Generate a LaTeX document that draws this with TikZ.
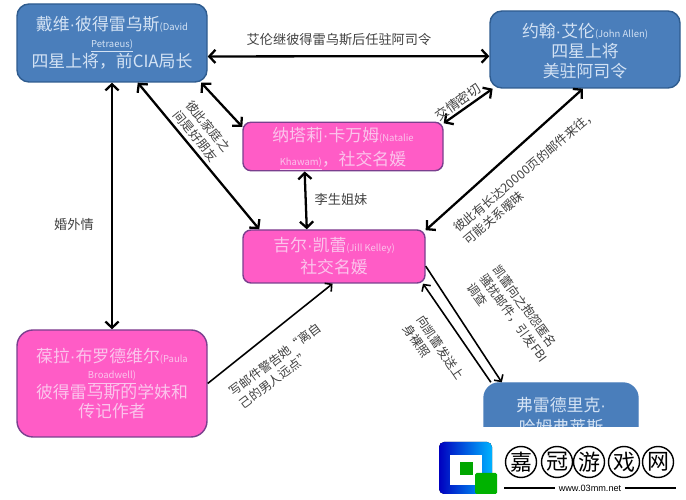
\documentclass[tikz,border=0pt]{standalone}
\usepackage{fontspec}
\setmainfont{Noto Sans CJK SC}
\newfontfamily\latinfont{Liberation Sans}
\usetikzlibrary{arrows.meta}
\usetikzlibrary{positioning}
\definecolor{boxblue}{HTML}{4A7EBB}
\definecolor{edgeblue}{HTML}{2F5C8F}
\definecolor{textblue}{HTML}{D3E2F4}
\definecolor{boxpink}{HTML}{FF5CC6}
\definecolor{edgepink}{HTML}{7A3F8E}
\definecolor{textpink}{HTML}{FBC4EC}
\newcommand{\smalltxt}{\fontsize{5.4}{7}\selectfont}
\newcommand{\middot}{{\latinfont ·}}
\tikzset{
  bluebox/.style={draw=edgeblue,fill=boxblue,text=textblue,line width=0.8pt,align=center,inner sep=0pt,font=\fontsize{9.6}{12.5}\selectfont},
  pinkbox/.style={draw=edgepink,fill=boxpink,text=textpink,line width=0.8pt,align=center,inner sep=0pt,font=\fontsize{9.6}{12.5}\selectfont},
  note/.style={inner sep=0pt,text=black!75,align=left,font=\fontsize{7.5}{9}\selectfont},
  tightnote/.style={note,font=\fontsize{7}{9}\selectfont},
  heavy/.style={line width=1.3pt,{Straight Barb[length=3.5pt,width=7.5pt]}-{Straight Barb[length=3.5pt,width=7.5pt]}},
  light/.style={line width=0.9pt,-{Straight Barb[length=2.8pt,width=6pt]}},
  ringed/.style={draw=black,line width=0.8pt,circle,minimum size=0.62cm,inner sep=0pt,font=\fontsize{12.5}{12.5}\selectfont},
}
\begin{document}
\begin{tikzpicture}
\useasboundingbox (0.,0.) rectangle (13.72,10.);
% people
\path (2.24,9.14) node(petraeus) [bluebox,rounded corners=0.24cm,minimum width=3.8cm,minimum height=1.56cm] {戴维\middot 彼得雷乌斯{\smalltxt(David}\\[-3pt]{\smalltxt\underline{Petraeus)}}\\[-1pt]四星上将，前CIA局长};
\path (11.7,9.01) node(allen) [bluebox,rounded corners=0.24cm,minimum width=3.8cm,minimum height=1.54cm] {\rule{0pt}{10pt}约翰\middot 艾伦{\smalltxt(John Allen)}\\[-1pt]四星上将\\[-1pt]美驻阿司令};
\path (6.86,7.07) node(natalie) [pinkbox,rounded corners=0.16cm,minimum width=4.cm,minimum height=0.94cm] {\rule{0pt}{11pt}纳塔莉\middot 卡万姆{\smalltxt(Natalie}\\[1pt]{\smalltxt\underline{Khawam)}}，社交名媛};
\path (6.68,4.87) node(jill) [pinkbox,rounded corners=0.16cm,minimum width=3.64cm,minimum height=1.06cm] {吉尔\middot 凯蕾{\smalltxt(Jill Kelley)}\\社交名媛};
\path (2.24,2.33) node(paula) [pinkbox,rounded corners=0.32cm,minimum width=3.8cm,minimum height=2.14cm] {葆拉\middot 布罗德维尔{\smalltxt(Paula}\\[-3pt]{\smalltxt\underline{Broadwell)}}\\[-1pt]彼得雷乌斯的学妹和\\[-1.7pt]传记作者};
\begin{scope}
\clip (9.,1.46) rectangle (13.5,3.5);
\path (11.22,1.67) node(frederick) [bluebox,draw=boxblue,rounded corners=0.3cm,minimum width=3.08cm,minimum height=1.34cm] {弗雷德里克\middot\\哈姆弗莱斯};
\end{scope}
% links
\draw[heavy] (petraeus.-8.4) -- (allen.184.5);
\draw[heavy] (petraeus.south) -- (paula.north);
\draw[heavy] (petraeus.-57.3) -- (jill.160.8);
\draw[heavy] (petraeus.-24.6) -- (natalie.169);
\draw[heavy] (natalie.213.1) -- (jill.135.5);
\draw[heavy] (allen.203.2) -- (natalie.13.2);
\draw[heavy] (allen.267) -- (jill.16.9);
\draw[light] (paula.east) -- (jill.267.8);
\draw[light] (jill.-6) -- (frederick.150.8);
\draw[light] (frederick.154.7) -- (jill.-17.1);
% notes
\path (6.78,9.2) node(succeeds) [note] {艾伦继彼得雷乌斯后任驻阿司令};
\path (1.48,5.52) node(affair) [note] {婚外情};
\path (6.82,6.02) node(twins) [note] {李生姐妹};
\path (4.04,7.38) node(friends) [tightnote,rotate=-51] {彼此家庭之\\间是好朋友};
\path (9.16,7.96) node(close) [note,rotate=35] {交情密切};
\path (10.6,6.46) node(mails) [tightnote,rotate=40] {彼此有长达20000页的邮件来往，\\可能关系暧昧};
\path (10.28,3.64) node(fbi) [tightnote,rotate=-54] {凯蕾向之抱怨匿名\\骚扰邮件，引发FBI\\调查};
\path (8.68,2.96) node(photos) [tightnote,rotate=-56] {向凯蕾发送上\\身裸照};
\path (5.6,2.68) node(warning) [tightnote,rotate=37] {写邮件警告她“离自\\己的男人远点”};
% mark
\fill[left color=blue!75!black,right color=cyan!70!blue,rounded corners=0.1cm] (8.78,0.12) rectangle (9.84,1.16);
\fill[white] (9.,0.3) rectangle (9.64,0.9);
\fill[green!65!black] (9.2,0.5) rectangle (9.46,0.76);
\fill[green!70!black,rounded corners=0.03cm] (9.5,0.12) rectangle (9.94,0.54);
\path (10.42,0.76) node(jia) [ringed] {嘉};
\path (11.14,0.76) node(guan) [ringed] {冠};
\path (11.78,0.76) node(you) [ringed] {游};
\path (12.48,0.76) node(xi) [ringed] {戏};
\path (13.16,0.76) node(wang) [ringed] {网};
\path (11.8,0.24) node(site) [inner sep=0pt,font=\latinfont\fontsize{5.2}{6}\selectfont] {www.03mm.net};
\coordinate (ruleleft) at (10.08,0.24);
\coordinate (ruleright) at (13.52,0.24);
\draw[line width=0.8pt] (ruleleft) -- ([xshift=-0.06cm]site.west);
\draw[line width=0.8pt] ([xshift=0.06cm]site.east) -- (ruleright);
\end{tikzpicture}
\end{document}
